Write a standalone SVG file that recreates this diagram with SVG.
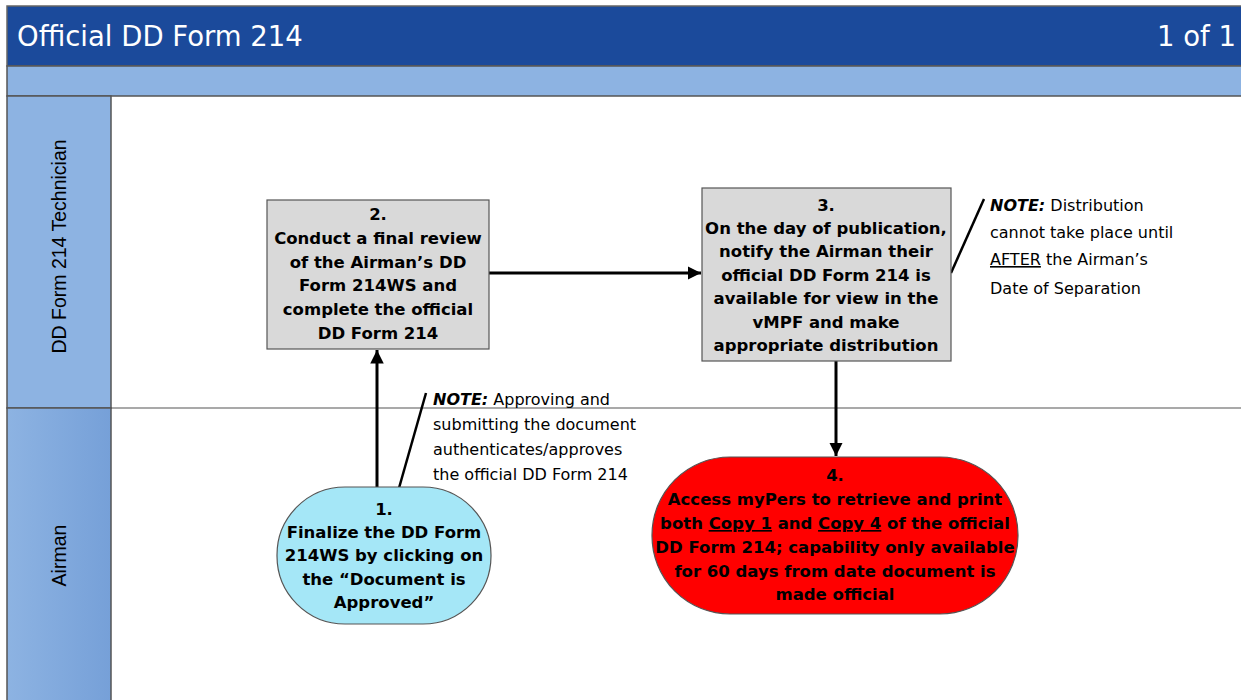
<svg xmlns="http://www.w3.org/2000/svg" width="1241" height="700" viewBox="0 0 1241 700">
<defs>
<style>
.hdr{fill:#1B4A9B;}
.bar{fill:#8DB3E2;stroke:#555;stroke-width:1.5;}
.lane{fill:#8DB3E2;stroke:#555;stroke-width:1.5;}
.title{font-family:"DejaVu Sans",sans-serif;font-size:27.5px;fill:#fff;}
.lanelbl{font-family:"Liberation Sans",Arial,sans-serif;font-size:19.5px;fill:#000;text-anchor:middle;}
.nt{font-family:"DejaVu Sans",sans-serif;font-size:16.5px;font-weight:bold;fill:#000;text-anchor:middle;}
.note{font-family:"DejaVu Sans",sans-serif;font-size:16px;fill:#000;}
.conn{stroke:#000;stroke-width:3;fill:none;}
.leader{stroke:#000;stroke-width:2.5;fill:none;}
</style>
<linearGradient id="g2" x1="0" y1="0" x2="1" y2="0">
<stop offset="0" stop-color="#8DB3E2"/>
<stop offset="1" stop-color="#76A0D8"/>
</linearGradient>
<marker id="ah" viewBox="0 0 10 10" refX="10" refY="5" markerWidth="4.5" markerHeight="4.5" orient="auto" markerUnits="strokeWidth">
<path d="M0,0 L10,5 L0,10 z" fill="#000"/>
</marker>
</defs>
<rect width="1241" height="700" fill="#fff"/>
<g id="header">
<rect x="7" y="6" width="1240" height="60" class="hdr" stroke="#666" stroke-width="1.5"/>
<text x="17" y="46" class="title">Official DD Form 214</text>
<text x="1236" y="46" class="title" text-anchor="end">1 of 1</text>
<rect x="7" y="66" width="1240" height="30" class="bar"/>
</g>
<g id="lanes">
<rect x="7" y="96" width="104" height="312" class="lane"/>
<rect x="7" y="408" width="104" height="300" fill="url(#g2)" stroke="#555" stroke-width="1.5"/>
<line x1="111" y1="408" x2="1241" y2="408" stroke="#555" stroke-width="1.2"/>
<text class="lanelbl" transform="translate(66,246.5) rotate(-90)">DD Form 214 Technician</text>
<text class="lanelbl" transform="translate(66,555.5) rotate(-90)">Airman</text>
</g>
<g id="connectors">
<line x1="377" y1="487" x2="377" y2="350" class="conn" marker-end="url(#ah)"/>
<line x1="489" y1="273" x2="701" y2="273" class="conn" marker-end="url(#ah)"/>
<line x1="836" y1="361" x2="836" y2="456" class="conn" marker-end="url(#ah)"/>
<line x1="399" y1="488" x2="426" y2="393" class="leader"/>
<line x1="951" y1="273" x2="984" y2="199" class="leader"/>
</g>
<g id="node2">
<rect x="267" y="200" width="222" height="149" fill="#D9D9D9" stroke="#555" stroke-width="1.2"/>
<text class="nt"><tspan x="378" y="220">2.</tspan><tspan x="378" y="244">Conduct a final review</tspan><tspan x="378" y="268">of the Airman’s DD</tspan><tspan x="378" y="291">Form 214WS and</tspan><tspan x="378" y="315">complete the official</tspan><tspan x="378" y="339">DD Form 214</tspan></text>
</g>
<g id="node3">
<rect x="702" y="188" width="249" height="173" fill="#D9D9D9" stroke="#555" stroke-width="1.2"/>
<text class="nt"><tspan x="826" y="211">3.</tspan><tspan x="826" y="234">On the day of publication,</tspan><tspan x="826" y="257">notify the Airman their</tspan><tspan x="826" y="281">official DD Form 214 is</tspan><tspan x="826" y="304">available for view in the</tspan><tspan x="826" y="328">vMPF and make</tspan><tspan x="826" y="351">appropriate distribution</tspan></text>
</g>
<g id="node1">
<rect x="277" y="487" width="214" height="137" rx="68" ry="68" fill="#A5E7F7" stroke="#555" stroke-width="1.2"/>
<text class="nt"><tspan x="384" y="515">1.</tspan><tspan x="384" y="538">Finalize the DD Form</tspan><tspan x="384" y="561">214WS by clicking on</tspan><tspan x="384" y="585">the “Document is</tspan><tspan x="384" y="608">Approved”</tspan></text>
</g>
<g id="node4">
<rect x="652" y="457" width="366" height="157" rx="78" ry="78" fill="#FF0000" stroke="#555" stroke-width="1.2"/>
<text class="nt"><tspan x="835" y="481">4.</tspan><tspan x="835" y="505">Access myPers to retrieve and print</tspan><tspan x="835" y="529">both <tspan text-decoration="underline">Copy 1</tspan> and <tspan text-decoration="underline">Copy 4</tspan> of the official</tspan><tspan x="835" y="553">DD Form 214; capability only available</tspan><tspan x="835" y="577">for 60 days from date document is</tspan><tspan x="835" y="600">made official</tspan></text>
</g>
<g id="note1">
<text class="note"><tspan x="433" y="405"><tspan font-weight="bold" font-style="italic">NOTE:</tspan>  Approving and</tspan><tspan x="433" y="430">submitting the document</tspan><tspan x="433" y="455">authenticates/approves</tspan><tspan x="433" y="480">the official DD Form 214</tspan></text>
</g>
<g id="note3">
<text class="note"><tspan x="990" y="211"><tspan font-weight="bold" font-style="italic">NOTE:</tspan>  Distribution</tspan><tspan x="990" y="238">cannot take place until</tspan><tspan x="990" y="265"><tspan text-decoration="underline">AFTER</tspan> the Airman’s</tspan><tspan x="990" y="294">Date of Separation</tspan></text>
</g>
</svg>
